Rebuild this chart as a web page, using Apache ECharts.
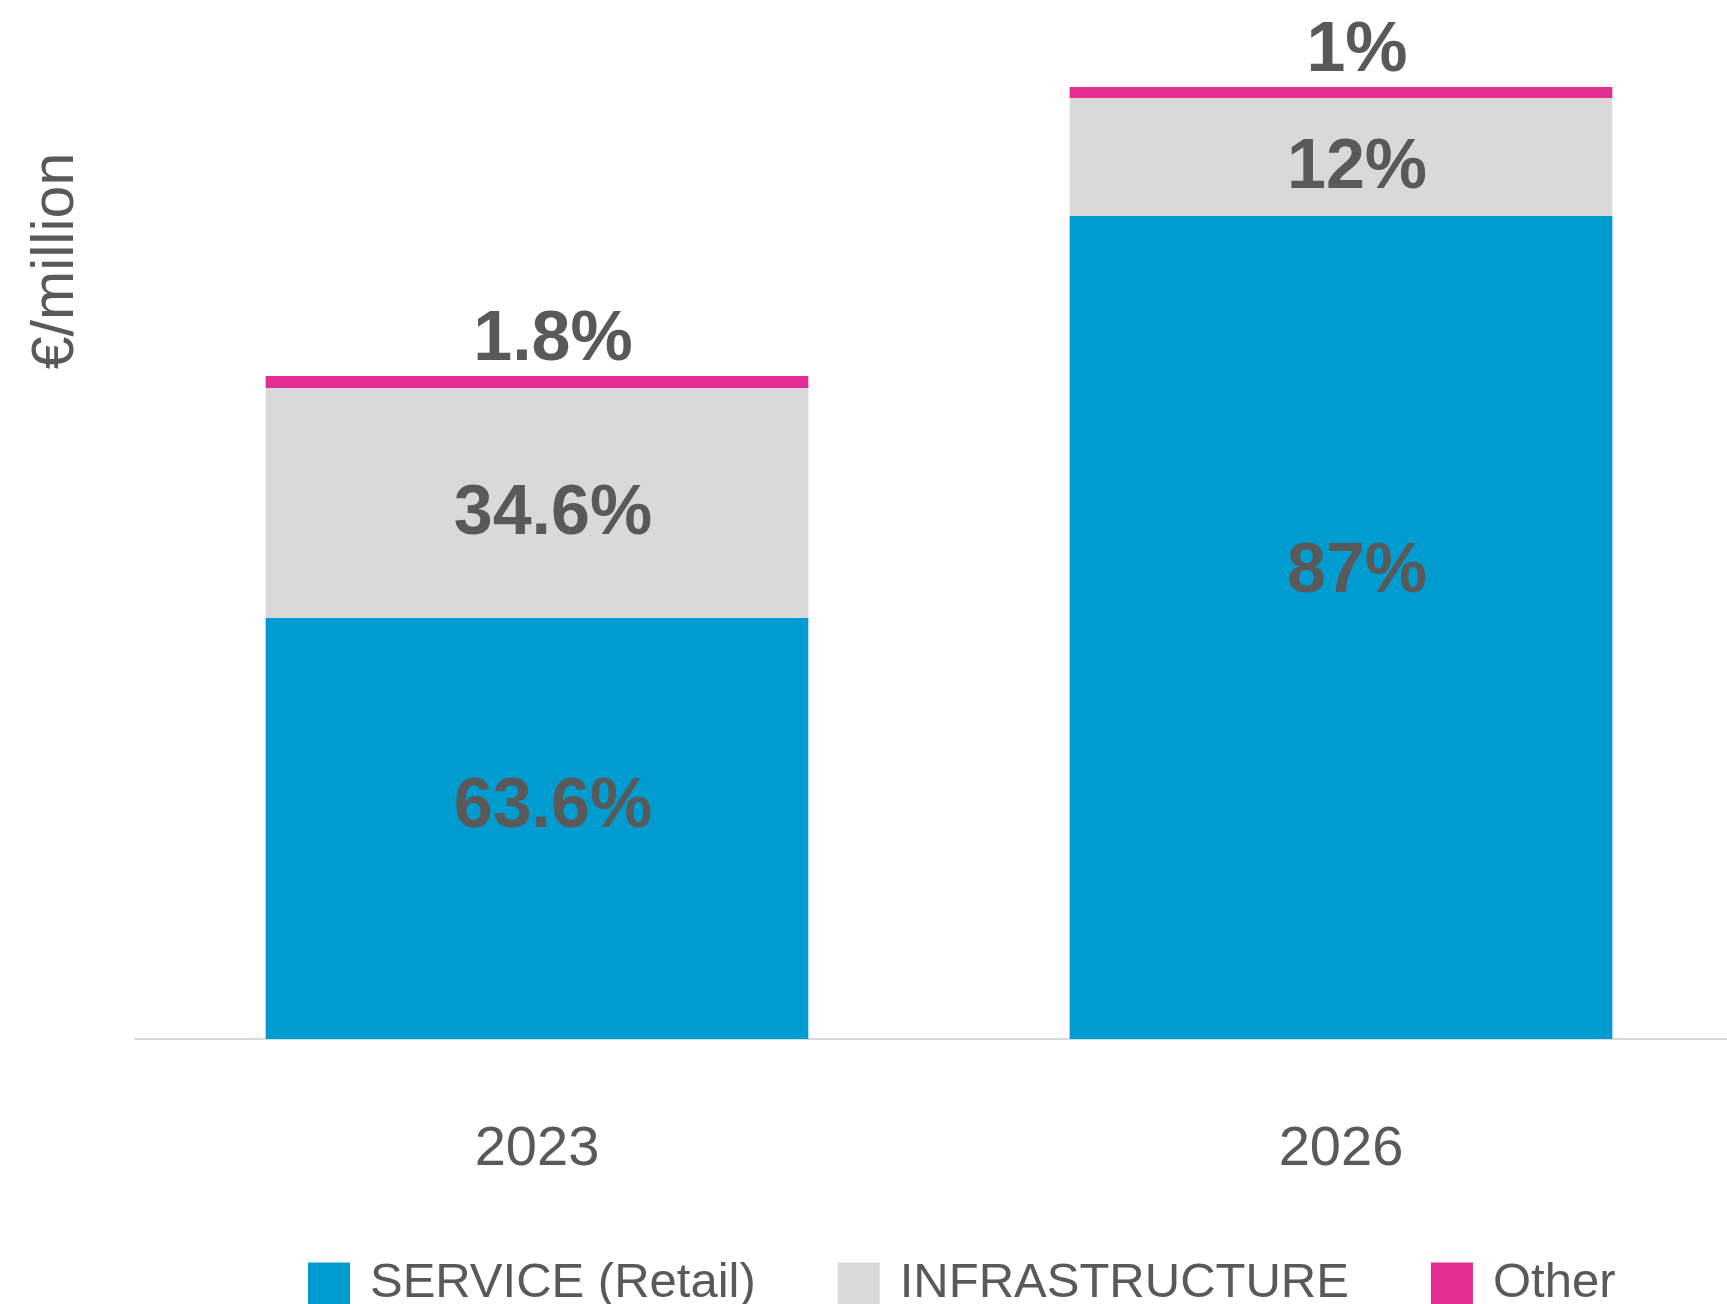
<!DOCTYPE html>
<html>
<head>
<meta charset="utf-8">
<style>
  html, body { margin: 0; padding: 0; background: #ffffff; }
  #chart { width: 1727px; height: 1304px; }
</style>
<script src="https://cdn.jsdelivr.net/npm/echarts@6/dist/echarts.min.js"></script>
</head>
<body>
<div id="chart"></div>
<script>
// Market size by segment, €/million
const years = ['2023', '2026'];
const seriesNames = ['SERVICE (Retail)', 'INFRASTRUCTURE', 'Other'];
const serviceValues = [421, 823];
const infrastructureValues = [230, 118];
const otherValues = [12, 11];
// Share of total shown on each segment
const serviceShares = ['63.6%', '87%'];
const infrastructureShares = ['34.6%', '12%'];
const otherShares = ['1.8%', '1%'];

const FONT = '"Liberation Sans", Arial, Helvetica, sans-serif';
const TEXT = '#595959';
const colors = ['#009CD0', '#D9D9D9', '#E22D92'];

// label nudges (horizontal shift is shared; vertical per bar)
const labelShiftX = 16;
const serviceLabelShift = [-21, -55];
const infraLabelShift = [12, 12];

function withShift(values, shifts) {
  return values.map((v, i) => ({ value: v, label: { offset: [labelShiftX, shifts[i]] } }));
}

const segLabel = (texts) => ({
  show: true,
  position: 'inside',
  color: TEXT,
  fontFamily: FONT,
  fontWeight: 'bold',
  fontSize: 70,
  formatter: p => texts[p.dataIndex]
});

const chart = echarts.init(document.getElementById('chart'), null, { renderer: 'canvas' });
chart.setOption({
  animation: false,
  backgroundColor: '#ffffff',
  color: colors,
  grid: {
    left: 135, width: 1608, top: 39, bottom: 265,
    containLabel: false, outerBoundsMode: 'none'
  },
  legend: {
    data: seriesNames,
    left: 308,
    top: 1259,
    padding: 0,
    itemWidth: 42,
    itemHeight: 42,
    itemGap: 82,
    icon: 'rect',
    textStyle: { color: TEXT, fontFamily: FONT, fontSize: 49, lineHeight: 42, padding: [0, 0, 0, 15] }
  },
  xAxis: {
    type: 'category',
    data: years,
    axisLine: { show: true, lineStyle: { color: '#D9D9D9', width: 2 } },
    axisTick: { show: false },
    axisLabel: { color: TEXT, fontFamily: FONT, fontSize: 56, margin: 83 }
  },
  yAxis: {
    type: 'value',
    min: 0,
    max: 1000,
    show: false
  },
  graphic: [{
    type: 'text',
    x: 57,
    y: 261,
    rotation: Math.PI / 2,
    style: {
      text: '€/million',
      fill: TEXT,
      font: '59px ' + FONT,
      textAlign: 'center',
      textVerticalAlign: 'middle'
    }
  }],
  series: [
    {
      name: seriesNames[0], type: 'bar', stack: 'total', barWidth: '67.5%',
      data: withShift(serviceValues, serviceLabelShift),
      label: segLabel(serviceShares)
    },
    {
      name: seriesNames[1], type: 'bar', stack: 'total',
      data: withShift(infrastructureValues, infraLabelShift),
      label: segLabel(infrastructureShares)
    },
    {
      name: seriesNames[2], type: 'bar', stack: 'total',
      data: otherValues,
      label: Object.assign(segLabel(otherShares), {
        position: 'top', distance: 0, offset: [labelShiftX, 0]
      })
    }
  ]
});
</script>
</body>
</html>
